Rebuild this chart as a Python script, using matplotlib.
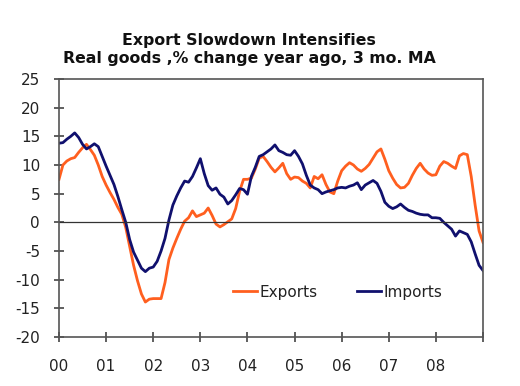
import matplotlib
matplotlib.use("Agg")
import matplotlib.pyplot as plt
import numpy as np

plt.rcParams['font.family'] = ['DejaVu Sans']

title_line1 = "Export Slowdown Intensifies"
title_line2 = "Real goods ,% change year ago, 3 mo. MA"
year_labels = ["00", "01", "02", "03", "04", "05", "06", "07", "08"]
y_ticks = [25, 20, 15, 10, 5, 0, -5, -10, -15, -20]

# monthly values, Jan 2000 .. Jan 2009
exports = [7.5, 10.0, 10.7, 11.1, 11.3, 12.2, 13.0, 13.6, 12.7, 11.7, 10.0, 8.0,
           6.5, 5.2, 4.0, 2.6, 1.4, -0.9, -4.2, -7.5, -10.2, -12.5, -13.9, -13.4,
           -13.3, -13.3, -13.3, -10.5, -6.5, -4.5, -2.8, -1.2, 0.2, 0.8, 2.0, 1.0,
           1.3, 1.6, 2.5, 1.2, -0.3, -0.8, -0.4, 0.1, 0.6, 2.4, 5.4, 7.5,
           7.5, 7.7, 9.3, 11.2, 11.5, 10.6, 9.6, 8.8, 9.5, 10.3, 8.5, 7.5,
           7.9, 7.8, 7.2, 6.8, 6.0, 8.0, 7.6, 8.3, 6.6, 5.3, 5.0, 7.2,
           9.0, 9.8, 10.4, 10.0, 9.3, 8.9, 9.4, 10.1, 11.2, 12.3, 12.8, 11.0,
           9.0, 7.7, 6.6, 6.0, 6.1, 6.8, 8.2, 9.4, 10.3, 9.3, 8.6, 8.2,
           8.3, 9.8, 10.6, 10.3, 9.8, 9.4, 11.6, 12.0, 11.8, 8.0, 3.0, -1.5,
           -3.5]
imports = [13.8, 13.9, 14.5, 15.0, 15.6, 14.8, 13.6, 12.8, 13.2, 13.7, 13.2, 11.5,
           9.8, 8.2, 6.6, 4.5, 2.2, 0.0, -3.0, -5.2, -6.6, -8.0, -8.6, -8.0,
           -7.8, -6.8, -5.0, -2.8, 0.4, 3.0, 4.6, 6.0, 7.2, 7.0, 8.0, 9.5,
           11.1, 8.5, 6.4, 5.6, 6.0, 4.9, 4.4, 3.2, 3.8, 4.8, 5.9, 5.7,
           4.9, 8.0, 9.6, 11.5, 11.8, 12.3, 12.8, 13.5, 12.5, 12.2, 11.8, 11.7,
           12.5, 11.5, 10.2, 8.2, 6.5, 6.0, 5.7, 5.0, 5.3, 5.5, 5.7, 6.0,
           6.1, 6.0, 6.3, 6.5, 6.9, 5.7, 6.5, 6.9, 7.3, 6.8, 5.4, 3.5,
           2.8, 2.4, 2.7, 3.2, 2.6, 2.1, 1.9, 1.6, 1.4, 1.3, 1.3, 0.8,
           0.8, 0.7, 0.0, -0.6, -1.2, -2.4, -1.5, -1.8, -2.1, -3.4, -5.5, -7.5,
           -8.4]

x = 2000 + np.arange(len(exports)) / 12.0

fig = plt.figure(figsize=(5.2, 3.86), dpi=100)
ax = fig.add_axes([59/520, 1-337/386, (483-59)/520, (337-79)/386])

ax.plot(x, exports, color='#FF5F1F', lw=2.0, label='Exports')
ax.plot(x, imports, color='#10106E', lw=2.0, label='Imports')
ax.axhline(0, color='#333333', lw=0.9)

ax.set_xlim(2000, 2009)
ax.set_ylim(-20, 25)
ax.set_yticks(y_ticks)
ax.set_yticklabels([str(v) for v in y_ticks])
ax.set_xticks(np.arange(2000, 2010))
ax.set_xticklabels(year_labels + [""])
for s in ax.spines.values():
    s.set_color('#555555')
    s.set_linewidth(1.2)
ax.tick_params(axis='both', direction='inout', length=7.2, width=1.2, color='#444444',
               labelsize=11, labelcolor='#222222')
ax.tick_params(axis='x', pad=12)
ax.tick_params(axis='y', pad=10)

leg = ax.legend(loc='center left', bbox_to_anchor=((233-59)/424, (337-292)/258), ncol=2,
                frameon=False, fontsize=11, handlelength=1.57, handletextpad=0.15,
                columnspacing=2.6, borderaxespad=0, borderpad=0)
for t in leg.get_texts():
    t.set_color('#222222')
fig.text(0.479, 1-44.5/386, title_line1, ha='center', va='baseline',
         fontsize=11.3, fontweight='bold', color='#111111')
fig.text(0.479, 1-62.5/386, title_line2, ha='center', va='baseline',
         fontsize=11.3, fontweight='bold', color='#111111')

fig.savefig('out.png', dpi=100)
